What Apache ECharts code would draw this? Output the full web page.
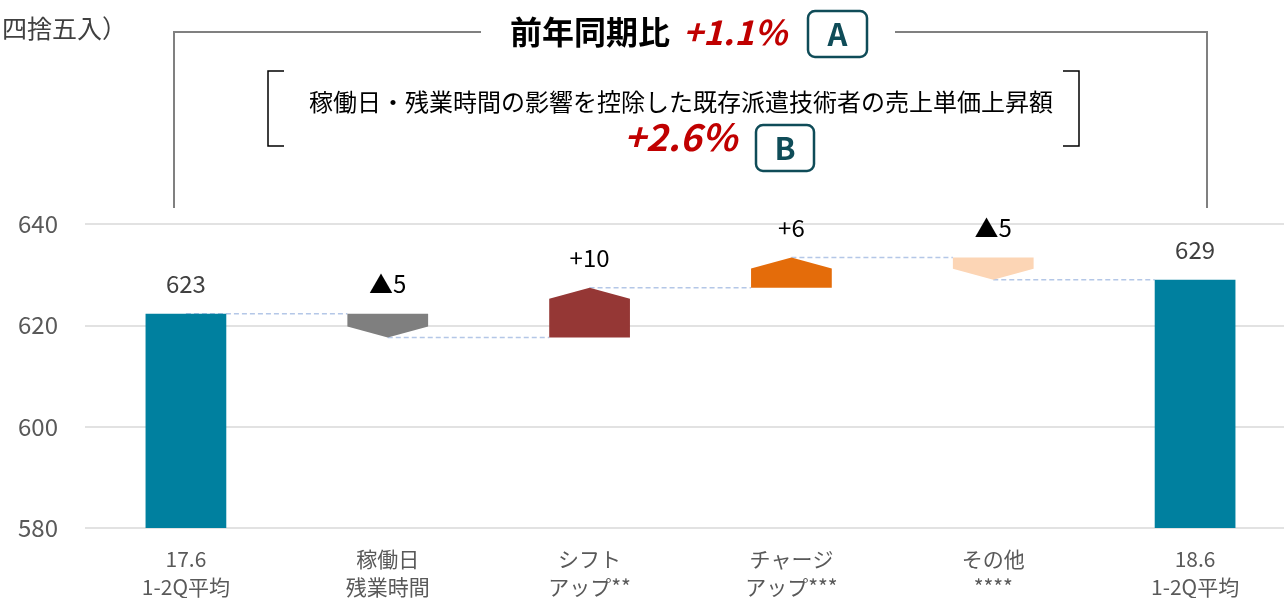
<!DOCTYPE html>
<html>
<head>
<meta charset="utf-8">
<script src="https://cdn.jsdelivr.net/npm/echarts@6/dist/echarts.min.js"></script>
<style>
  html, body { margin: 0; padding: 0; background: #fff; }
  #main { width: 1284px; height: 598px; }
</style>
</head>
<body>
<div id="main"></div>
<script>
// データ
const categories = ['17.6\n1-2Q平均', '稼働日\n残業時間', 'シフト\nアップ**', 'チャージ\nアップ***', 'その他\n****', '18.6\n1-2Q平均']
const startValue = 622.3
const deltas = [-4.7, 9.8, 6.0, -4.4]
const endValue = 629.0
const barLabels = ['623', '▲5', '+10', '+6', '▲5', '629']
const yTicks = [580, 600, 620, 640]

const barColors = ['#00809f', '#7f7f7f', '#953735', '#e46c0a', '#fcd5b5', '#00809f']
const jp = "'Noto Sans CJK JP', 'Noto Sans', sans-serif"

// 積み上げ計算
const items = []
let level = startValue
items.push([0, yTicks[0], startValue, 0])
deltas.forEach((d, k) => {
  items.push([k + 1, level, level + d, 1])
  level = level + d
})
items.push([categories.length - 1, yTicks[0], endValue, 0])

// 接続線 (各バーの終点レベル)
const links = items.slice(0, -1).map(v => [v[0], v[2]])

var myChart = echarts.init(document.querySelector('#main'))

function renderBar (params, api) {
  const i = api.value(0)
  const from = api.value(1)
  const to = api.value(2)
  const kind = api.value(3)
  const band = api.size([1, 0])[0]
  const w = band * 0.4
  const p0 = api.coord([i, from])
  const p1 = api.coord([i, to])
  const x = p0[0]
  const left = x - w / 2
  const right = x + w / 2
  let shape
  if (kind === 0) {
    shape = {
      type: 'rect',
      shape: { x: left, y: p1[1], width: w, height: p0[1] - p1[1] },
      style: { fill: barColors[i] }
    }
  } else {
    // 矢印の先端 (px固定)
    const tipH = 11
    const dir = p1[1] < p0[1] ? 1 : -1
    const shoulder = p1[1] + dir * tipH
    shape = {
      type: 'polygon',
      shape: { points: [[left, p0[1]], [left, shoulder], [x, p1[1]], [right, shoulder], [right, p0[1]]] },
      style: { fill: barColors[i] }
    }
  }
  const topY = Math.min(p0[1], p1[1])
  return {
    type: 'group',
    children: [
      shape,
      {
        type: 'text',
        style: {
          x: x,
          y: topY - 30,
          text: barLabels[i],
          fill: kind === 0 ? '#404040' : '#000',
          font: '24px ' + jp,
          align: 'center',
          verticalAlign: 'middle'
        }
      }
    ]
  }
}

function renderLink (params, api) {
  const i = api.value(0)
  const v = api.value(1)
  const band = api.size([1, 0])[0]
  const w = band * 0.4
  const a = api.coord([i, v])
  const b = api.coord([i + 1, v])
  return {
    type: 'line',
    shape: { x1: a[0], y1: a[1], x2: b[0] - w / 2, y2: a[1] },
    style: { stroke: '#b4c7e7', lineWidth: 1.5, lineDash: [5, 3] }
  }
}

const option = {
  animation: false,
  grid: { left: 85, right: -12, top: 224, bottom: 70, outerBoundsMode: 'none', containLabel: false },
  xAxis: {
    type: 'category',
    data: categories,
    axisLine: { show: false },
    axisTick: { show: false },
    axisLabel: {
      color: '#595959',
      fontSize: 21,
      lineHeight: 28,
      margin: 17,
      fontFamily: jp
    }
  },
  yAxis: {
    type: 'value',
    min: yTicks[0],
    max: yTicks[yTicks.length - 1],
    interval: 20,
    axisLine: { show: false },
    axisTick: { show: false },
    axisLabel: { color: '#595959', fontSize: 24, margin: 27, fontFamily: jp },
    splitLine: { lineStyle: { color: '#d9d9d9', width: 1.5 } }
  },
  series: [
    {
      type: 'custom',
      z: 1,
      renderItem: renderLink,
      data: links
    },
    {
      type: 'custom',
      z: 2,
      renderItem: renderBar,
      data: items
    }
  ],
  graphic: [
    { type: 'text', left: 2, top: 16, style: { text: '四捨五入）', fill: '#404040', font: '25px ' + jp } },
    // 大きい括弧
    { type: 'polyline', shape: { points: [[174, 208], [174, 32], [481, 32]] }, style: { stroke: '#808080', lineWidth: 2, fill: null } },
    { type: 'polyline', shape: { points: [[895, 32], [1207, 32], [1207, 208]] }, style: { stroke: '#808080', lineWidth: 2, fill: null } },
    { type: 'text', x: 510, y: 32, style: { text: '前年同期比', fill: '#000', font: 'bold 32px ' + jp, verticalAlign: 'middle' } },
    { type: 'text', x: 683, y: 32, style: { text: '+1.1%', fill: '#c00000', font: 'italic bold 34px ' + jp, verticalAlign: 'middle' } },
    { type: 'rect', shape: { x: 808, y: 11, width: 59, height: 46, r: 7 }, style: { stroke: '#0f4c58', lineWidth: 2.5, fill: null } },
    { type: 'text', x: 837.5, y: 34, style: { text: 'A', fill: '#0f4c58', font: 'bold 31px ' + jp, align: 'center', verticalAlign: 'middle' } },
    // 小さい括弧
    { type: 'polyline', shape: { points: [[284, 71], [268, 71], [268, 146], [284, 146]] }, style: { stroke: '#000', lineWidth: 1.5, fill: null } },
    { type: 'polyline', shape: { points: [[1063, 71], [1079, 71], [1079, 146], [1063, 146]] }, style: { stroke: '#000', lineWidth: 1.5, fill: null } },
    { type: 'text', x: 681, y: 102, style: { text: '稼働日・残業時間の影響を控除した既存派遣技術者の売上単価上昇額', fill: '#000', font: '24px ' + jp, align: 'center', verticalAlign: 'middle' } },
    { type: 'text', x: 624, y: 137, style: { text: '+2.6%', fill: '#c00000', font: 'italic bold 37px ' + jp, verticalAlign: 'middle' } },
    { type: 'rect', shape: { x: 756, y: 125, width: 58, height: 46, r: 7 }, style: { stroke: '#0f4c58', lineWidth: 2.5, fill: null } },
    { type: 'text', x: 785, y: 148, style: { text: 'B', fill: '#0f4c58', font: 'bold 31px ' + jp, align: 'center', verticalAlign: 'middle' } }
  ]
}

myChart.setOption(option)
</script>
</body>
</html>
